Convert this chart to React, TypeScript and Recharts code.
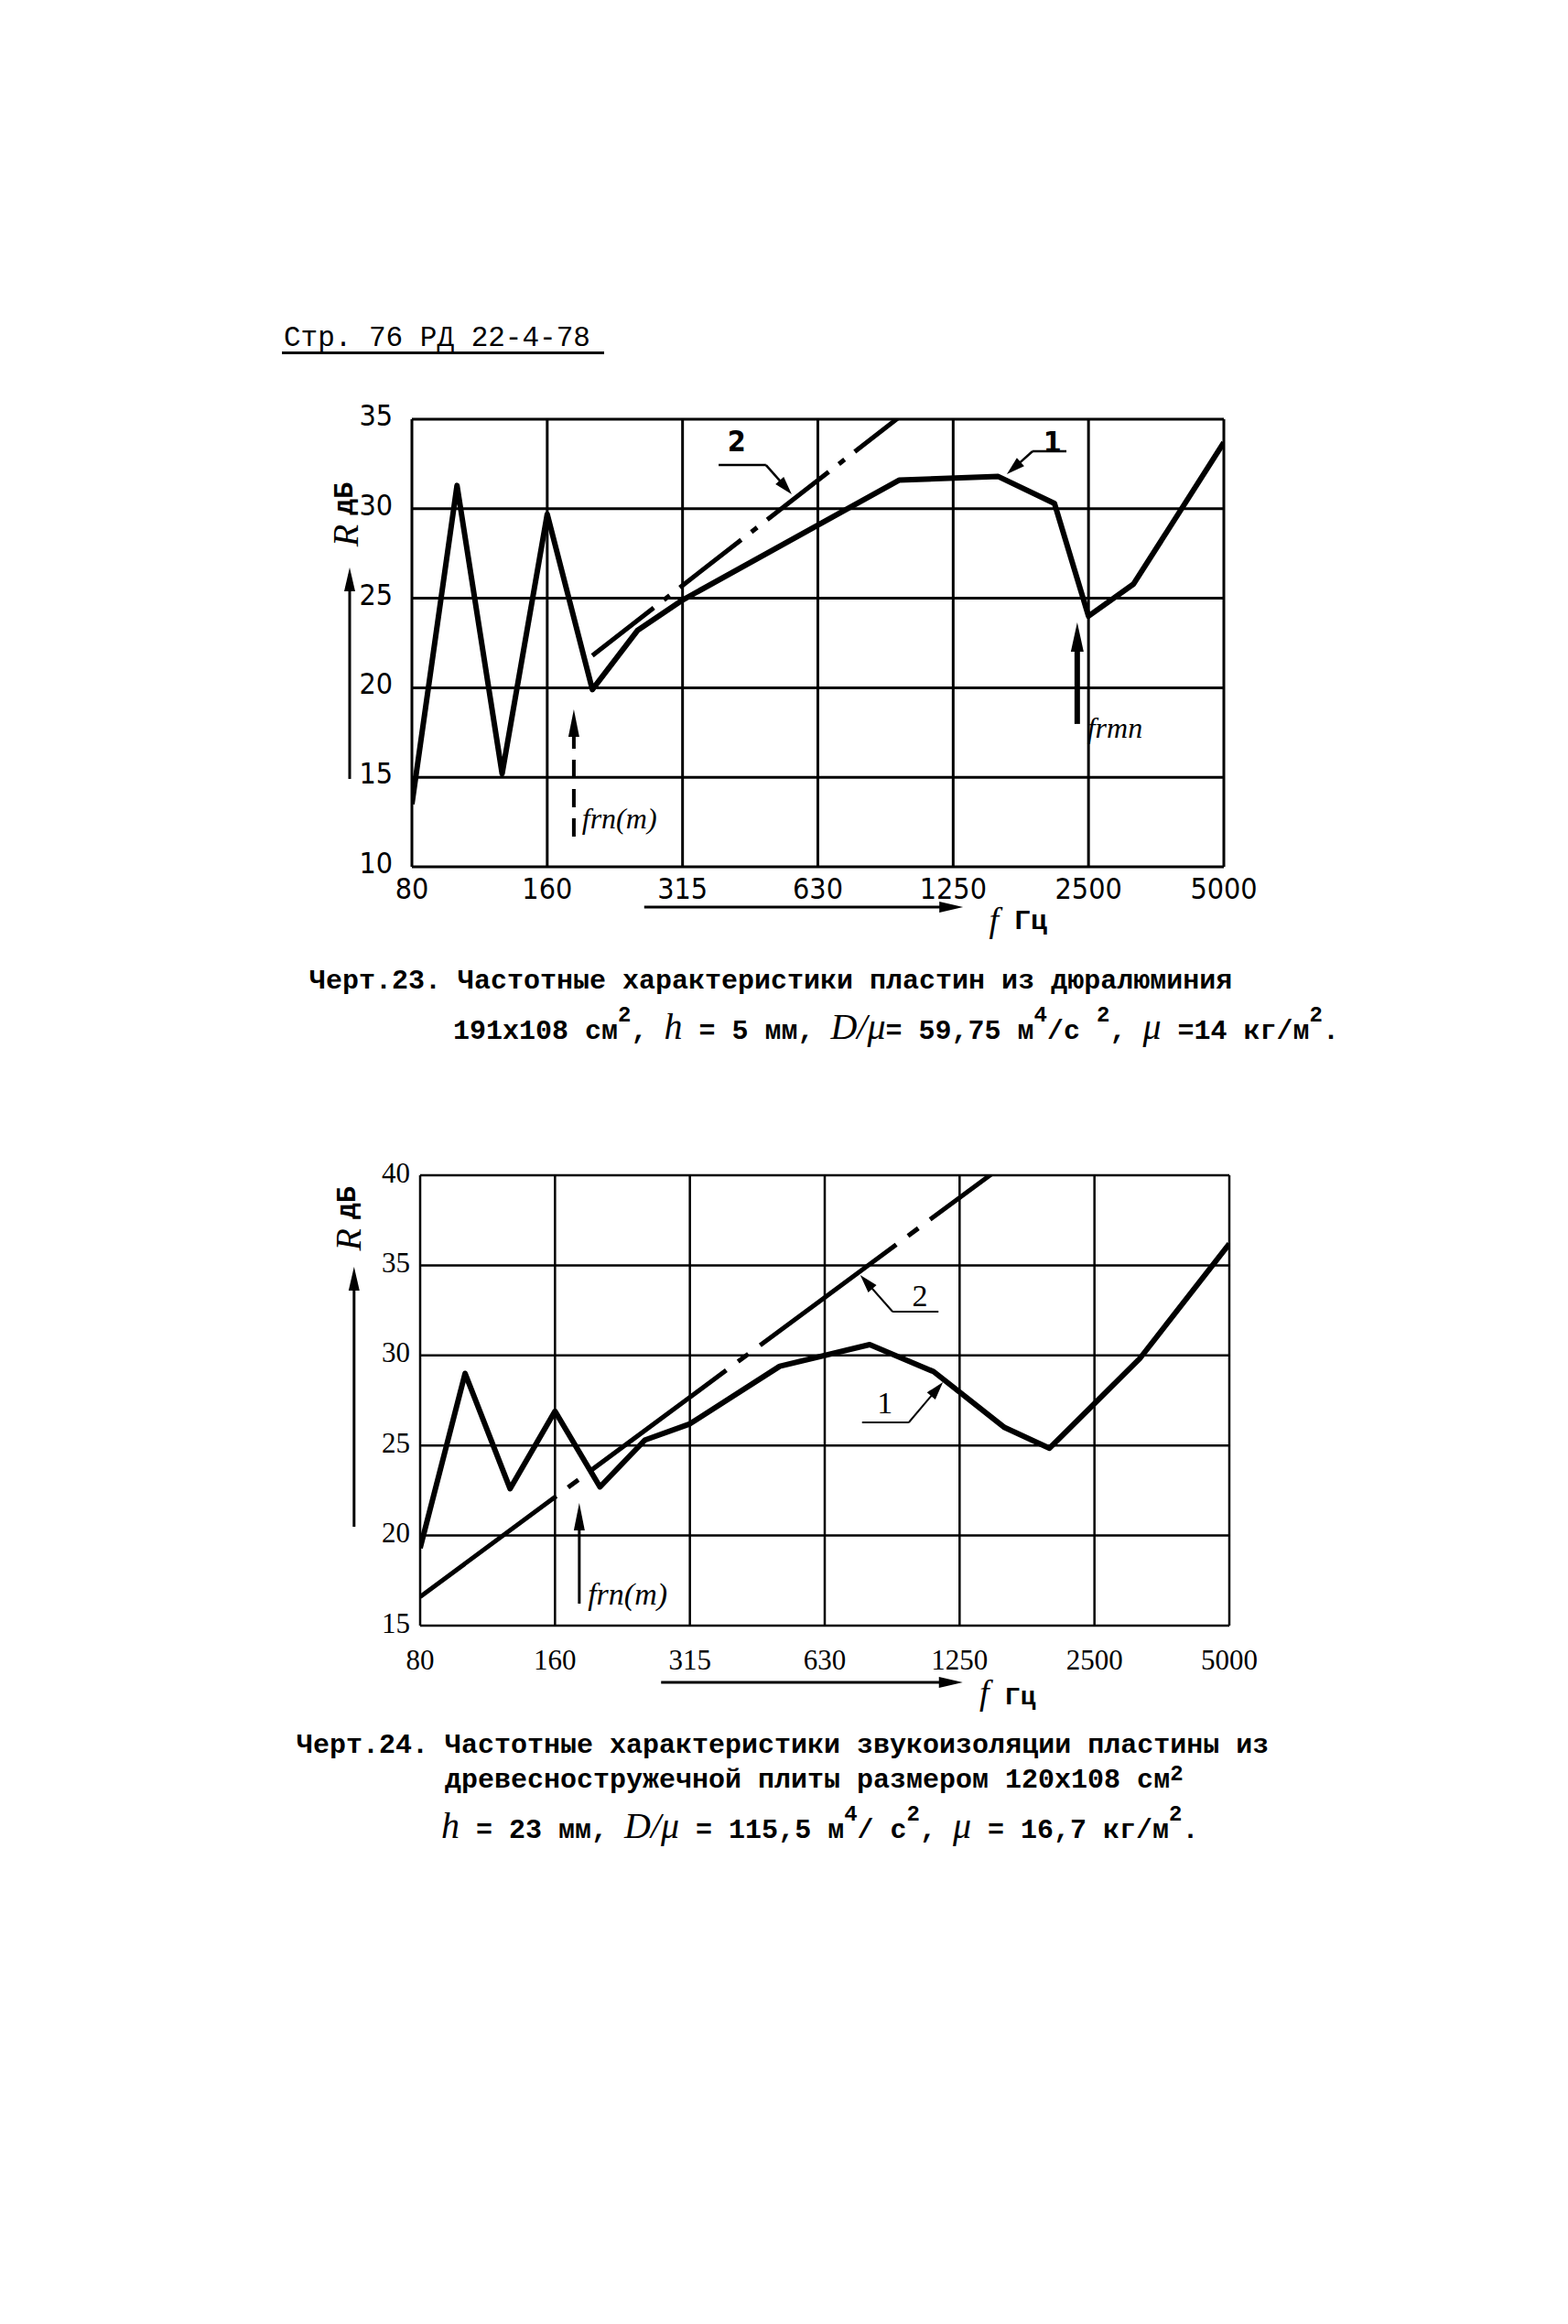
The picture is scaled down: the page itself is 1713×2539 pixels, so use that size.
import React from 'react';
import { LineChart, Line, XAxis, YAxis, CartesianGrid, ReferenceLine, ReferenceDot } from 'recharts';

// ---------- data ----------
const BANDS = [80, 100, 125, 160, 200, 250, 315, 400, 500, 630, 800, 1000, 1250, 1600, 2000, 2500, 3150, 4000, 5000];
const TICK_FREQS = [80, 160, 315, 630, 1250, 2500, 5000];

// Черт.23
const ch23Curve1Freq = [80, 100, 125, 160, 200, 250, 315, 970, 1600, 2150, 2500, 3150, 5000];
const ch23Curve1R = [13.5, 31.3, 15.2, 29.7, 19.9, 23.2, 24.9, 31.6, 31.8, 30.3, 24.0, 25.8, 33.7];
const ch23Curve2Freq = [200, 1000];
const ch23Curve2R = [21.8, 35.5];
const ch23YTicks = [10, 15, 20, 25, 30, 35];

// Черт.24
const ch24Curve1Freq = [80, 100, 125, 160, 200, 250, 315, 500, 800, 1120, 1600, 2000, 3150, 5000];
const ch24Curve1R = [19.3, 29.0, 22.6, 26.9, 22.7, 25.3, 26.2, 29.4, 30.6, 29.1, 26.0, 24.85, 29.8, 36.2];
const ch24Curve2Freq = [80, 1600];
const ch24Curve2R = [16.6, 40.6];
const ch24YTicks = [15, 20, 25, 30, 35, 40];

// ---------- helpers ----------
const bandPos = (f: number) => {
  const i = BANDS.indexOf(f);
  return i >= 0 ? i : 3 * Math.log2(f / 80);
};
const toPoints = (fs: number[], rs: number[]) => fs.map((f, i) => ({ x: bandPos(f), r: rs[i] }));
const xTicks = TICK_FREQS.map(bandPos);
const xLabel = (v: number) => {
  const i = xTicks.indexOf(v);
  return i >= 0 ? String(TICK_FREQS[i]) : '';
};

const SANS_N = "'Liberation Sans Narrow', 'DejaVu Sans Condensed', 'Liberation Sans', sans-serif";
const SERIF = "'Liberation Serif', 'DejaVu Serif', serif";
const MONO = "'Liberation Mono', 'DejaVu Sans Mono', monospace";

type TxtOpts = { font?: string; size?: number; italic?: boolean; bold?: boolean; anchor?: string; rotate?: number };

function txt(key: string, xi: number, v: number, content: React.ReactNode, o: TxtOpts = {}) {
  return (
    <ReferenceDot
      key={key}
      x={xi}
      y={v}
      r={1}
      ifOverflow="visible"
      shape={(p: any) => (
        <text
          x={p.cx}
          y={p.cy}
          textAnchor={(o.anchor as any) ?? 'middle'}
          dominantBaseline="central"
          fontFamily={o.font ?? MONO}
          fontSize={o.size ?? 30}
          fontStyle={o.italic ? 'italic' : 'normal'}
          fontWeight={o.bold ? 'bold' : 'normal'}
          fill="#000"
          transform={o.rotate ? `rotate(${o.rotate} ${p.cx} ${p.cy})` : undefined}
        >
          {content}
        </text>
      )}
    />
  );
}

type SegOpts = { w?: number; head?: number; hw?: number; dash?: string };
function seg(key: string, a: [number, number], b: [number, number], o: SegOpts = {}) {
  return (
    <ReferenceLine
      key={key}
      segment={[{ x: a[0], y: a[1] }, { x: b[0], y: b[1] }]}
      ifOverflow="visible"
      shape={(p: any) => {
        const { x1, y1, x2, y2 } = p;
        const w = o.w ?? 2;
        if (!o.head) {
          return <line x1={x1} y1={y1} x2={x2} y2={y2} stroke="#000" strokeWidth={w} strokeDasharray={o.dash} />;
        }
        const dx = x2 - x1, dy = y2 - y1, L = Math.hypot(dx, dy) || 1;
        const ux = dx / L, uy = dy / L;
        const bx = x2 - ux * o.head, by = y2 - uy * o.head;
        const nx = -uy, ny = ux, hw = o.hw ?? 6;
        return (
          <g>
            <line x1={x1} y1={y1} x2={bx + ux * 2} y2={by + uy * 2} stroke="#000" strokeWidth={w} strokeDasharray={o.dash} />
            <polygon
              points={`${x2},${y2} ${bx + nx * hw},${by + ny * hw} ${bx - nx * hw},${by - ny * hw}`}
              fill="#000"
            />
          </g>
        );
      }}
    />
  );
}

const makeXTick = (font: string, size: number, off: number) => (p: any) => (
  <text x={p.x} y={p.y + off} textAnchor="middle" dominantBaseline="central" fontFamily={font} fontSize={size} fill="#000">
    {xLabel(p.payload.value)}
  </text>
);
const makeYTick = (font: string, size: number, gap: number, dy: number) => (p: any) => (
  <text x={p.x - gap} y={p.y + dy} textAnchor="end" dominantBaseline="central" fontFamily={font} fontSize={size} fill="#000">
    {p.payload.value}
  </text>
);

const rLabel = (size: number) => (
  <>
    <tspan fontFamily={SERIF} fontStyle="italic" fontSize={size + 10}>R</tspan>
    <tspan dx={10} fontFamily={MONO} fontWeight="bold" fontSize={size}>дБ</tspan>
  </>
);

// ---------- charts ----------
function Chart23() {
  const c1 = toPoints(ch23Curve1Freq, ch23Curve1R);
  const c2 = toPoints(ch23Curve2Freq, ch23Curve2R);
  return (
    <div style={{ position: 'absolute', left: 300, top: 420 }}>
      <LineChart width={1100} height={640} margin={{ top: 38, right: 63, bottom: 63, left: 90 }}>
        <CartesianGrid stroke="#000" strokeWidth={3} />
        <XAxis
          type="number"
          dataKey="x"
          domain={[0, 18]}
          ticks={xTicks}
          interval={0}
          allowDataOverflow
          axisLine={false}
          tickLine={false}
          tickSize={0}
          tickMargin={0}
          height={50}
          tick={makeXTick(SANS_N, 32, 24)}
        />
        <YAxis
          type="number"
          domain={[10, 35]}
          ticks={ch23YTicks}
          interval={0}
          allowDataOverflow
          axisLine={false}
          tickLine={false}
          tickSize={0}
          tickMargin={0}
          width={60}
          tick={makeYTick(SANS_N, 32, 21, -4)}
        />
        <Line data={c2} dataKey="r" type="linear" stroke="#000" strokeWidth={5} strokeDasharray="85 14 8 14" dot={false} isAnimationActive={false} />
        <Line data={c1} dataKey="r" type="linear" stroke="#000" strokeWidth={6} strokeLinejoin="round" dot={false} isAnimationActive={false} />
        {seg('l2h', [6.8, 32.44], [7.85, 32.44], { w: 2.5 })}
        {seg('l2a', [7.85, 32.44], [8.42, 30.81], { w: 2.5, head: 20, hw: 6 })}
        {txt('l2t', 7.2, 33.77, '2', { font: SANS_N, size: 32, bold: true })}
        {seg('l1h', [14.51, 33.21], [13.76, 33.21], { w: 2.5 })}
        {seg('l1a', [13.76, 33.21], [13.19, 31.93], { w: 2.5, head: 20, hw: 6 })}
        {txt('l1t', 14.2, 33.72, '1', { font: SANS_N, size: 32, bold: true })}
        {seg('fra', [3.59, 11.69], [3.59, 18.79], { w: 4, head: 30, hw: 6, dash: '20 12' })}
        {txt('frt', 3.77, 12.71, 'frn(m)', { font: SERIF, size: 32, italic: true, anchor: 'start' })}
        {seg('fmn', [14.75, 17.98], [14.75, 23.65], { w: 6, head: 32, hw: 7 })}
        {txt('fmt', 14.97, 17.77, 'frmn', { font: SERIF, size: 32, italic: true, anchor: 'start' })}
        {txt('ylab', -1.48, 29.68, rLabel(30), { rotate: -90 })}
        {seg('yarr', [-1.38, 14.91], [-1.38, 26.72], { w: 3, head: 26, hw: 6 })}
        {seg('xarr', [5.15, 7.75], [12.22, 7.75], { w: 3, head: 26, hw: 6 })}
        {txt('xf', 12.9, 7.05, 'f', { font: SERIF, size: 38, italic: true })}
        {txt('xhz', 13.72, 6.95, 'Гц', { font: MONO, size: 30, bold: true })}
      </LineChart>
    </div>
  );
}

function Chart24() {
  const c1 = toPoints(ch24Curve1Freq, ch24Curve1R);
  const c2 = toPoints(ch24Curve2Freq, ch24Curve2R);
  return (
    <div style={{ position: 'absolute', left: 300, top: 1240 }}>
      <LineChart width={1100} height={650} margin={{ top: 44, right: 57, bottom: 64, left: 99 }}>
        <CartesianGrid stroke="#000" strokeWidth={2.5} />
        <XAxis
          type="number"
          dataKey="x"
          domain={[0, 18]}
          ticks={xTicks}
          interval={0}
          allowDataOverflow
          axisLine={false}
          tickLine={false}
          tickSize={0}
          tickMargin={0}
          height={50}
          tick={makeXTick(SERIF, 31, 37)}
        />
        <YAxis
          type="number"
          domain={[15, 40]}
          ticks={ch24YTicks}
          interval={0}
          allowDataOverflow
          axisLine={false}
          tickLine={false}
          tickSize={0}
          tickMargin={0}
          width={60}
          tick={makeYTick(SERIF, 31, 11, -3)}
        />
        <Line data={c2} dataKey="r" type="linear" stroke="#000" strokeWidth={5} strokeDasharray="185 16 14 16" dot={false} isAnimationActive={false} />
        <Line data={c1} dataKey="r" type="linear" stroke="#000" strokeWidth={6} strokeLinejoin="round" dot={false} isAnimationActive={false} />
        {txt('l2t', 11.12, 33.34, '2', { font: SERIF, size: 34 })}
        {seg('l2h', [11.53, 32.43], [10.51, 32.43], { w: 2 })}
        {seg('l2a', [10.51, 32.43], [9.79, 34.46], { w: 2, head: 20, hw: 6 })}
        {txt('l1t', 10.34, 27.35, '1', { font: SERIF, size: 34 })}
        {seg('l1h', [9.83, 26.28], [10.87, 26.28], { w: 2 })}
        {seg('l1a', [10.87, 26.28], [11.63, 28.52], { w: 2, head: 20, hw: 6 })}
        {seg('fra', [3.54, 16.22], [3.54, 21.81], { w: 3, head: 30, hw: 6 })}
        {txt('frt', 3.73, 16.73, 'frn(m)', { font: SERIF, size: 34, italic: true, anchor: 'start' })}
        {txt('ylab', -1.61, 37.6, rLabel(30), { rotate: -90 })}
        {seg('yarr', [-1.47, 20.49], [-1.47, 34.92], { w: 3, head: 26, hw: 6 })}
        {seg('xarr', [5.36, 11.85], [12.07, 11.85], { w: 3, head: 26, hw: 6 })}
        {txt('xf', 12.55, 11.3, 'f', { font: SERIF, size: 38, italic: true })}
        {txt('xhz', 13.35, 11.0, 'Гц', { font: MONO, size: 28, bold: true })}
      </LineChart>
    </div>
  );
}

// ---------- page ----------
const line: React.CSSProperties = {
  position: 'absolute',
  fontFamily: MONO,
  fontWeight: 'bold',
  fontSize: 30,
  lineHeight: '30px',
  whiteSpace: 'pre',
  color: '#000',
};
const it: React.CSSProperties = { fontFamily: SERIF, fontStyle: 'italic', fontWeight: 'normal', fontSize: 40 };
const sup: React.CSSProperties = { fontSize: 24, verticalAlign: 'top', position: 'relative', top: -12 };
const supLow: React.CSSProperties = { fontSize: 24, verticalAlign: 'top', position: 'relative', top: -6 };

export default function App() {
  return (
    <div style={{ position: 'absolute', left: 0, top: 0, width: 1713, height: 2539, background: '#fff', overflow: 'hidden' }}>
      <div style={{ ...line, left: 310, top: 355, fontWeight: 'normal', fontSize: 31 }}>Стр. 76 РД 22-4-78</div>
      <div style={{ position: 'absolute', left: 308, top: 384, width: 352, height: 3, background: '#000' }} />

      <Chart23 />

      <div style={{ ...line, left: 338, top: 1057 }}>Черт.23. Частотные характеристики пластин из дюралюминия</div>
      <div style={{ ...line, left: 495, top: 1107 }}>
        191x108 см<span style={sup}>2</span>, <span style={it}>h</span> = 5 мм, <span style={it}>D/μ</span>= 59,75 м
        <span style={sup}>4</span>/с <span style={sup}>2</span>, <span style={it}>μ</span> =14 кг/м<span style={sup}>2</span>.
      </div>

      <Chart24 />

      <div style={{ ...line, left: 324, top: 1892 }}>Черт.24. Частотные характеристики звукоизоляции пластины из</div>
      <div style={{ ...line, left: 486, top: 1930 }}>
        древесностружечной плиты размером 120x108 см<span style={supLow}>2</span>
      </div>
      <div style={{ ...line, left: 482, top: 1980 }}>
        <span style={it}>h</span> = 23 мм, <span style={it}>D/μ</span> = 115,5 м<span style={sup}>4</span>/ с
        <span style={sup}>2</span>, <span style={it}>μ</span> = 16,7 кг/м<span style={sup}>2</span>.
      </div>
    </div>
  );
}
